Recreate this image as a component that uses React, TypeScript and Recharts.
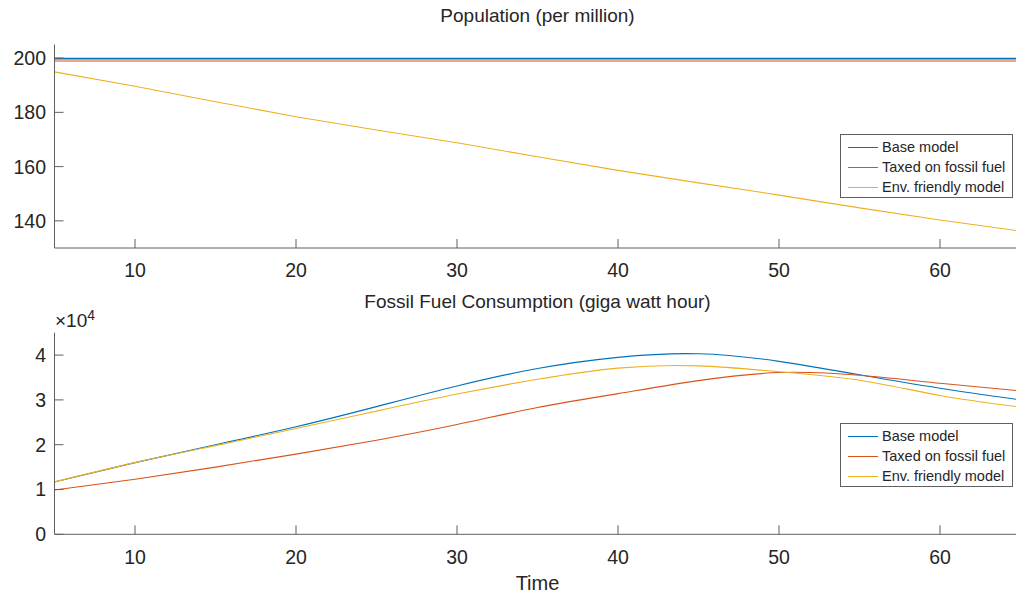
import { LineChart, Line, XAxis, YAxis } from 'recharts';

// time axis (years)
const time = [5, 10, 15, 20, 25, 30, 35, 40, 45, 50, 55, 60, 65];

// population (per million)
const popBase = [199.8, 199.8, 199.8, 199.8, 199.8, 199.8, 199.8, 199.8, 199.8, 199.8, 199.8, 199.8, 199.8];
const popTaxed = [198.9, 198.9, 198.9, 198.9, 198.9, 198.9, 198.9, 198.9, 198.9, 198.9, 198.9, 198.9, 198.9];
const popEnv = [194.9, 189.6, 183.9, 178.4, 173.5, 168.8, 163.6, 158.6, 154.0, 149.5, 144.8, 140.3, 136.2];

// fossil fuel consumption (giga watt hour)
const fuelBase = [11700, 16000, 20000, 24000, 28500, 33100, 37000, 39500, 40300, 38600, 35600, 32600, 30000];
const fuelTaxed = [9900, 12300, 15000, 17900, 21000, 24500, 28300, 31400, 34300, 36100, 35500, 33700, 32000];
const fuelEnv = [11700, 16000, 19800, 23600, 27500, 31300, 34600, 37100, 37600, 36300, 34400, 31000, 28400];

const xTicks = [10, 20, 30, 40, 50, 60];
const popTicks = [140, 160, 180, 200];
const fuelTicks = [0, 10000, 20000, 30000, 40000];

const seriesNames = ['Base model', 'Taxed on fossil fuel', 'Env. friendly model'];
const seriesColors = ['#0072BD', '#D95319', '#EDB120'];

const popData = time.map((t, i) => ({ t, base: popBase[i], taxed: popTaxed[i], env: popEnv[i] }));
const fuelData = time.map((t, i) => ({ t, base: fuelBase[i], taxed: fuelTaxed[i], env: fuelEnv[i] }));

const FONT = '"Liberation Sans", Arial, Helvetica, sans-serif';
const AXIS = '#5f5f5f';
const TEXT = '#262626';
const tickStyle = { fontSize: 19.5, fill: TEXT, fontFamily: FONT };

// MATLAB-style boxed legend, placed inside the axes at the east side
const LegendBox = ({ top }: { top: number }) => (
    <div
        style={{
            position: 'absolute',
            left: 840,
            top,
            boxSizing: 'border-box',
            width: 173,
            height: 64,
            border: `1px solid ${AXIS}`,
            background: '#fff',
            padding: '2px 0',
            fontFamily: FONT,
            fontSize: 14.5,
            color: TEXT,
        }}
    >
        {seriesNames.map((name, i) => (
            <div key={name} style={{ height: 20, display: 'flex', alignItems: 'center' }}>
                <div style={{ marginLeft: 7, width: 30, height: 1, background: seriesColors[i] }} />
                <span style={{ marginLeft: 4, whiteSpace: 'nowrap' }}>{name}</span>
            </div>
        ))}
    </div>
);

interface PanelProps {
    data: Array<{ t: number; base: number; taxed: number; env: number }>;
    height: number;
    top: number;
    bottom: number;
    yDomain: [number, number];
    yTicks: number[];
    yFormat?: (v: number) => string;
    curve: 'linear' | 'natural';
}

const Panel = ({ data, height, top, bottom, yDomain, yTicks, yFormat, curve }: PanelProps) => (
    <LineChart width={1040} height={height} data={data} margin={{ top, right: 19.5, bottom: 0, left: 0 }}>
        <XAxis
            dataKey="t"
            type="number"
            domain={[5, 65]}
            ticks={xTicks}
            allowDataOverflow
            height={bottom}
            stroke={AXIS}
            tickSize={-9}
            tickMargin={24.5}
            tick={tickStyle}
        />
        <XAxis
            xAxisId="top"
            orientation="top"
            type="number"
            domain={[5, 65]}
            ticks={xTicks}
            allowDataOverflow
            height={0}
            stroke={AXIS}
            tickSize={-9}
            tick={false}
        />
        <YAxis
            type="number"
            domain={yDomain}
            ticks={yTicks}
            allowDataOverflow
            width={54.5}
            stroke={AXIS}
            tickSize={-9}
            tickMargin={17.5}
            tick={tickStyle}
            tickFormatter={yFormat}
        />
        <YAxis
            yAxisId="right"
            orientation="right"
            type="number"
            domain={yDomain}
            ticks={yTicks}
            allowDataOverflow
            width={0}
            stroke={AXIS}
            tickSize={-9}
            tick={false}
        />
        <Line type={curve} dataKey="base" name={seriesNames[0]} stroke={seriesColors[0]} strokeWidth={curve === 'linear' ? 1.6 : 1.1} dot={false} isAnimationActive={false} />
        <Line type={curve} dataKey="taxed" name={seriesNames[1]} stroke={seriesColors[1]} strokeWidth={1.1} dot={false} isAnimationActive={false} />
        <Line type={curve} dataKey="env" name={seriesNames[2]} stroke={seriesColors[2]} strokeWidth={1.1} dot={false} isAnimationActive={false} />
    </LineChart>
);

const titleStyle = {
    position: 'absolute' as const,
    left: 54.5,
    width: 966,
    textAlign: 'center' as const,
    fontFamily: FONT,
    fontSize: 19,
    lineHeight: '20px',
    color: TEXT,
};

export default function App() {
    return (
        <div
            style={{
                position: 'absolute',
                left: 0,
                top: 0,
                width: 1016,
                height: 600,
                overflow: 'hidden',
                background: '#fff',
            }}
        >
            <div style={{ position: 'absolute', left: 0, top: 0 }}>
                <Panel
                    data={popData}
                    height={290}
                    top={44.5}
                    bottom={42}
                    yDomain={[130, 205]}
                    yTicks={popTicks}
                    curve="linear"
                />
            </div>
            <div style={{ position: 'absolute', left: 0, top: 290 }}>
                <Panel
                    data={fuelData}
                    height={310}
                    top={42.7}
                    bottom={65.7}
                    yDomain={[0, 45000]}
                    yTicks={fuelTicks}
                    yFormat={(v: number) => String(v / 10000)}
                    curve="natural"
                />
            </div>
            <LegendBox top={134} />
            <LegendBox top={423} />
            <div style={{ ...titleStyle, top: 6 }}>Population (per million)</div>
            <div style={{ ...titleStyle, top: 292 }}>Fossil Fuel Consumption (giga watt hour)</div>
            <div
                style={{
                    position: 'absolute',
                    left: 55,
                    top: 311,
                    fontFamily: FONT,
                    fontSize: 19,
                    lineHeight: '20px',
                    color: TEXT,
                }}
            >
                ×10<sup style={{ fontSize: 14, verticalAlign: 'top', position: 'relative', top: -6 }}>4</sup>
            </div>
            <div style={{ ...titleStyle, top: 573, fontSize: 20 }}>Time</div>
        </div>
    );
}
